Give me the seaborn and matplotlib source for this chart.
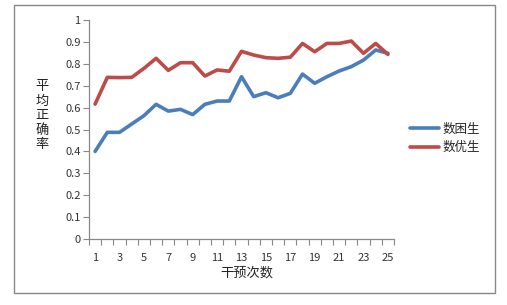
import numpy as np
import pandas as pd
import matplotlib
matplotlib.use("Agg")
import matplotlib.pyplot as plt
from matplotlib.patches import Rectangle
import seaborn as sns

x_vals = list(range(1, 26))
weak = [0.40, 0.487, 0.487, 0.525, 0.563, 0.615, 0.584, 0.592, 0.568, 0.615,
        0.630, 0.630, 0.741, 0.650, 0.668, 0.645, 0.665, 0.753, 0.711, 0.741,
        0.767, 0.787, 0.817, 0.863, 0.848]
strong = [0.616, 0.738, 0.737, 0.738, 0.779, 0.825, 0.770, 0.805, 0.805, 0.744,
          0.772, 0.766, 0.857, 0.840, 0.828, 0.825, 0.830, 0.893, 0.855, 0.893,
          0.893, 0.904, 0.848, 0.893, 0.843]
series_names = ["数困生", "数优生"]
colors = ["#4a7ebb", "#be4b48"]
y_ticks = [round(0.1 * i, 1) for i in range(11)]
x_ticklabels = list(range(1, 26, 2))

sns.set_theme(style="white")
plt.rcParams['font.family'] = ['Noto Sans CJK SC', 'DejaVu Sans']

df = pd.DataFrame({
    "x": x_vals * 2,
    "y": weak + strong,
    "s": [series_names[0]] * 25 + [series_names[1]] * 25,
})

fig = plt.figure(figsize=(5.07, 3.05), dpi=100)
ax = fig.add_axes([89 / 507, 1 - 239 / 305, 305 / 507, 219 / 305])

sns.lineplot(data=df, x="x", y="y", hue="s", palette=colors, linewidth=2.6,
             ax=ax, legend=True)

ax.set_xlim(0.5, 25.5)
ax.set_ylim(0, 1)
ax.set_yticks(y_ticks)
ax.set_yticklabels([("%g" % t) for t in y_ticks], fontsize=8, color="#333333")
ax.set_xticks(np.arange(0.5, 26, 1))
ax.set_xticklabels([])
ax.set_xticks(x_ticklabels, minor=True)
ax.set_xticklabels([str(v) for v in x_ticklabels], minor=True, fontsize=8, color="#333333")
ax.tick_params(axis="x", which="major", direction="out", length=4, width=0.8, color="#888888", bottom=True)
ax.tick_params(axis="x", which="minor", length=0, pad=10, bottom=True)
ax.tick_params(axis="y", direction="out", length=4, width=0.8, color="#888888", left=True, pad=2)
for side in ["top", "right"]:
    ax.spines[side].set_visible(False)
for side in ["left", "bottom"]:
    ax.spines[side].set_color("#888888")
    ax.spines[side].set_linewidth(0.9)
ax.set_xlabel("")
ax.set_ylabel("")
ax.grid(False)

ax.legend(loc="center left", bbox_to_anchor=(1.015, 0.46), frameon=False,
          fontsize=9, handlelength=2.3, handletextpad=0.3, labelspacing=0.45)

fig.text(247 / 507, 1 - 273 / 305, "干预次数", ha="center", va="center", fontsize=9.5, color="#222222")
fig.text(42 / 507, 1 - 116 / 305, "平\n均\n正\n确\n率", ha="center", va="center", fontsize=9.5,
         color="#222222", linespacing=1.15)

fig.patches.append(Rectangle((14 / 507, 1 - 293 / 305), (495 - 14) / 507, (293 - 5) / 305,
                             transform=fig.transFigure, fill=False, edgecolor="#888888", linewidth=1.0))

fig.savefig("out.png", dpi=100)
